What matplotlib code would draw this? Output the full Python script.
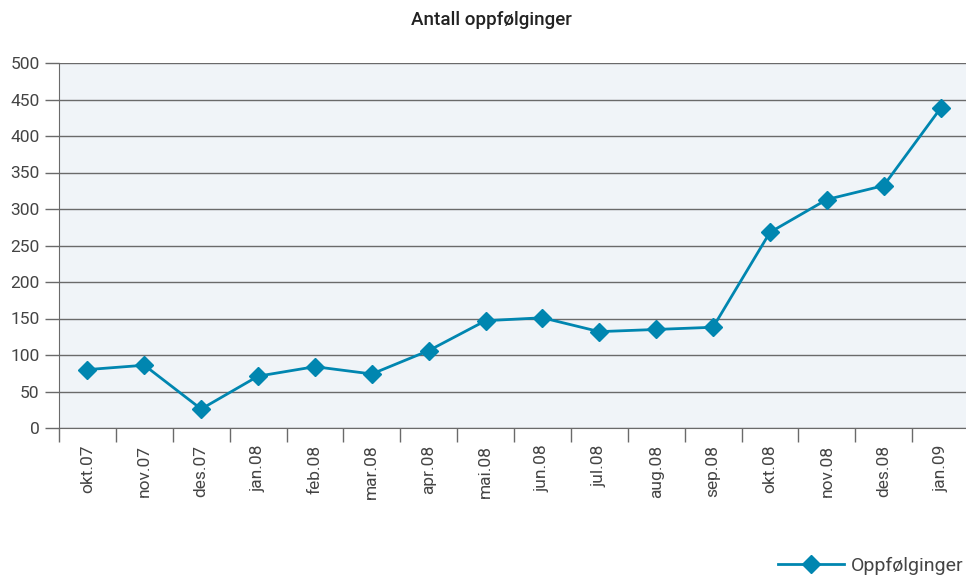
import numpy as np
import matplotlib as mpl
mpl.use('Agg')
import matplotlib.pyplot as plt
from matplotlib.lines import Line2D

################################################################################

months = ['okt.07', 'nov.07', 'des.07', 'jan.08', 'feb.08', 'mar.08', 'apr.08',
          'mai.08', 'jun.08', 'jul.08', 'aug.08', 'sep.08', 'okt.08', 'nov.08',
          'des.08', 'jan.09']
counts = [80, 86, 26, 71, 84, 74, 106, 147, 151, 132, 135, 138, 268, 313, 332, 438]
yticks = [0, 50, 100, 150, 200, 250, 300, 350, 400, 450, 500]

col = '#0086b0'
txt = '#444444'
grid = '#6a6a6a'

plt.rcParams['font.family'] = ['Roboto', 'DejaVu Sans']

fig = plt.figure(figsize=(9.66, 5.76), dpi=100)
ax = fig.add_axes([59/966, 148/576, 910/966, 365/576])
ax.set_facecolor('#f0f4f8')

x = np.arange(len(months))
ax.plot(x, counts, color=col, lw=2, marker='D', ms=9, zorder=3)

ax.set_xlim(-0.5, len(months) - 0.5)
ax.set_ylim(0, 500)
ax.set_yticks(yticks)
ax.set_yticklabels([str(v) for v in yticks], fontsize=12.5, color=txt)
ax.set_xticks(x)
ax.set_xticklabels(months, rotation=90, fontsize=12.5, color=txt)
ax.tick_params(axis='x', length=0, pad=12)
ax.set_xticks(np.arange(len(months) + 1) - 0.5, minor=True)
ax.tick_params(axis='x', which='minor', length=10, color=grid, width=1)
ax.tick_params(axis='y', length=10, color=grid, width=1, pad=4)
ax.grid(axis='y', color=grid, lw=1)
ax.set_axisbelow(True)
for s in ['top', 'right']:
    ax.spines[s].set_visible(False)
ax.spines['left'].set_color(grid)
ax.spines['bottom'].set_color(grid)

fig.text(491/966, 1 - 20/576, 'Antall oppfølginger', ha='center', va='center',
         fontsize=13.5, fontweight='medium', color='#222222')

h = Line2D([], [], color=col, lw=2, marker='D', ms=9)
fig.legend([h], ['Oppfølginger'], loc='center right', bbox_to_anchor=(971/966, 1 - 566/576),
           frameon=False, fontsize=14, handlelength=3.4, labelcolor=txt,
           handletextpad=0.35, borderaxespad=0)

fig.savefig('out.png', dpi=100)
